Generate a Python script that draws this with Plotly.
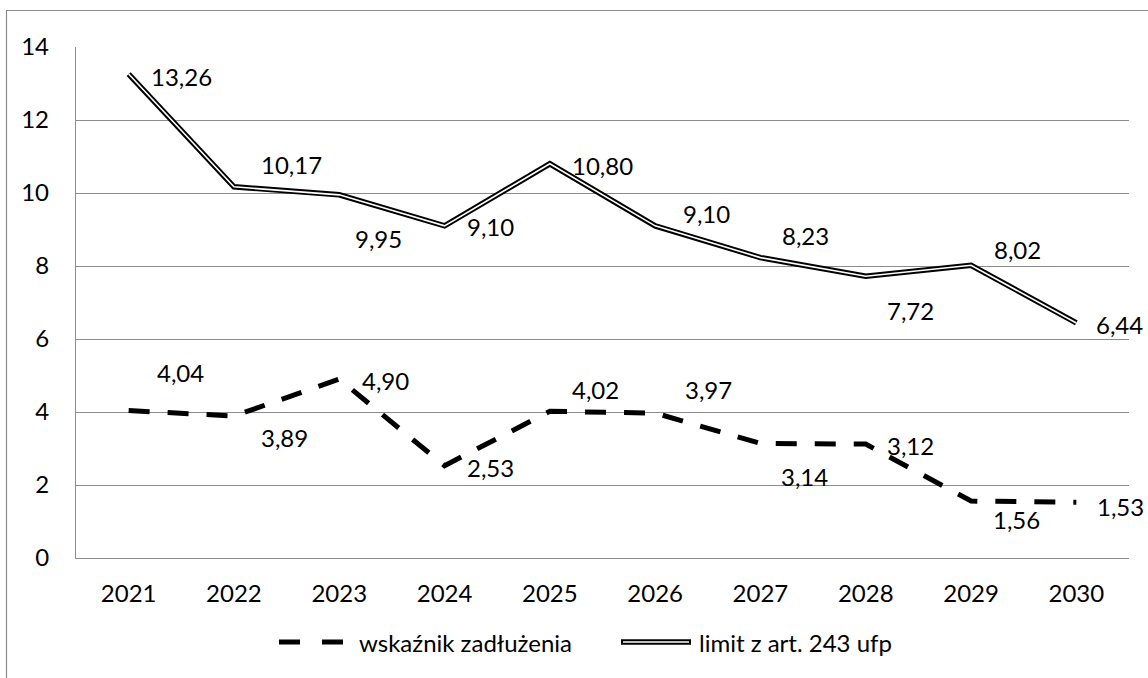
import plotly.graph_objects as go

# ---- data ----
years = ["2021", "2022", "2023", "2024", "2025", "2026", "2027", "2028", "2029", "2030"]
wskaznik = [4.04, 3.89, 4.90, 2.53, 4.02, 3.97, 3.14, 3.12, 1.56, 1.53]
limit = [13.26, 10.17, 9.95, 9.10, 10.80, 9.10, 8.23, 7.72, 8.02, 6.44]
y_ticks = [0, 2, 4, 6, 8, 10, 12, 14]
name_wsk = "wskaźnik zadłużenia"
name_lim = "limit z art. 243 ufp"

# ---- styling / label placement (pixel offsets: dx right, dy down) ----
FONT = "Lato"
FS = 24
lim_off = [(53, 2), (58, -22), (39, 44), (46, 1), (53, 2), (51, -12), (45, -22), (45, 34), (46, -16), (43, 2)]
wsk_off = [(52, -38), (51, 21), (46, 1), (46, 2), (46, -22), (53, -24), (44, 33), (45, 1), (45, 18), (44, 4)]

W, H = 1148, 678
L, R, T, B = 76, 1129, 47, 558  # plot area in pixels


def px(x):
    return (x - L) / (R - L)


def py(y):
    return (B - y) / (B - T)


def fmt(v):
    return f"{v:.2f}".replace(".", ",")


idx = list(range(len(years)))

fig = go.Figure()
fig.add_trace(go.Scatter(x=idx, y=limit, mode="lines", name=name_lim,
                         line=dict(color="black", width=5.5), showlegend=False, hoverinfo="skip"))
fig.add_trace(go.Scatter(x=idx, y=limit, mode="lines", name=name_lim,
                         line=dict(color="white", width=1.6), showlegend=False))
fig.add_trace(go.Scatter(x=idx, y=wskaznik, mode="lines", name=name_wsk,
                         line=dict(color="black", width=5, dash="21px,18px"), showlegend=False))

annotations = []
for i, v, (dx, dy) in zip(idx, limit, lim_off):
    annotations.append(dict(x=i, y=v, xref="x", yref="y", text=fmt(v), showarrow=False,
                            xanchor="center", yanchor="middle", xshift=dx, yshift=-dy,
                            font=dict(family=FONT, size=FS, color="black")))
for i, v, (dx, dy) in zip(idx, wskaznik, wsk_off):
    annotations.append(dict(x=i, y=v, xref="x", yref="y", text=fmt(v), showarrow=False,
                            xanchor="center", yanchor="middle", xshift=dx, yshift=-dy,
                            font=dict(family=FONT, size=FS, color="black")))

# custom legend
leg_y = 642
annotations.append(dict(x=px(357), y=py(leg_y), xref="paper", yref="paper", text=name_wsk,
                        showarrow=False, xanchor="left", yanchor="middle",
                        font=dict(family=FONT, size=FS, color="black")))
annotations.append(dict(x=px(697), y=py(leg_y), xref="paper", yref="paper", text=name_lim,
                        showarrow=False, xanchor="left", yanchor="middle",
                        font=dict(family=FONT, size=FS, color="black")))

shapes = [
    # outer chart border
    dict(type="rect", xref="paper", yref="paper", x0=px(6.5), x1=px(1170), y0=py(700), y1=py(10.5),
         line=dict(color="#8c8c8c", width=1.2), fillcolor="rgba(0,0,0,0)", layer="below"),
    # legend symbols
    dict(type="line", xref="paper", yref="paper", x0=px(279), x1=px(343), y0=py(leg_y), y1=py(leg_y),
         line=dict(color="black", width=5, dash="21px,22px")),
    dict(type="line", xref="paper", yref="paper", x0=px(621), x1=px(691), y0=py(leg_y), y1=py(leg_y),
         line=dict(color="black", width=5.5)),
    dict(type="line", xref="paper", yref="paper", x0=px(623), x1=px(689), y0=py(leg_y), y1=py(leg_y),
         line=dict(color="white", width=1.6)),
]

fig.update_layout(
    width=W, height=H,
    margin=dict(l=L, r=W - R, t=T, b=H - B, autoexpand=False),
    paper_bgcolor="white", plot_bgcolor="white",
    font=dict(family=FONT, size=FS, color="black"),
    showlegend=False,
    annotations=annotations,
    shapes=shapes,
    xaxis=dict(range=[-0.5, len(years) - 0.5], tickvals=idx, ticktext=years,
               showgrid=False, showline=True, linecolor="#8c8c8c", linewidth=1.3, zeroline=False,
               ticks="", ticklabelstandoff=14, tickfont=dict(family=FONT, size=FS, color="black"),
               fixedrange=True),
    yaxis=dict(range=[0, 14], tickvals=y_ticks, ticktext=[str(t) for t in y_ticks],
               showgrid=True, gridcolor="#8c8c8c", gridwidth=1.3, zeroline=False,
               showline=True, linecolor="#8c8c8c", linewidth=1.3, ticks="", ticklabelstandoff=21,
               tickfont=dict(family=FONT, size=FS, color="black"), fixedrange=True),
)

fig.write_html(
    "out.html",
    config={"displayModeBar": False},
    post_script="document.body.style.margin='0';document.body.style.overflow='hidden';",
)
